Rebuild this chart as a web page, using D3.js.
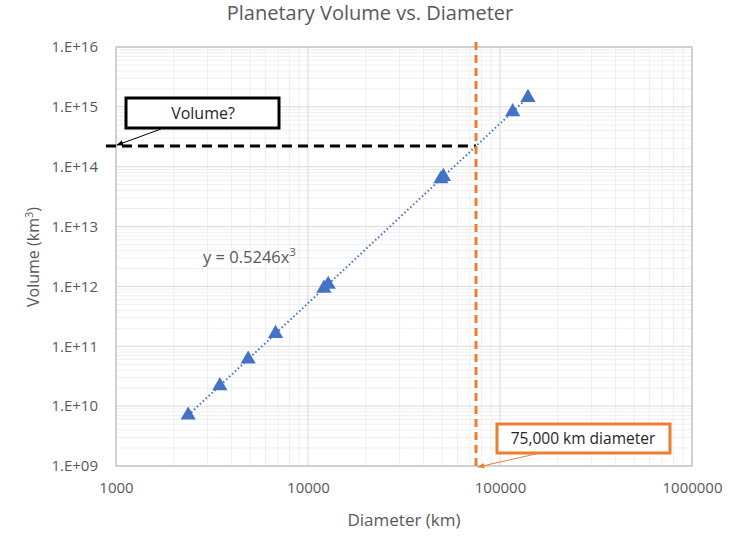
<!DOCTYPE html>
<html><head><meta charset="utf-8">
<script src="https://cdn.jsdelivr.net/npm/d3@7"></script>
<style>body{margin:0;background:#fff;} text{font-family:"Open Sans",Lato,sans-serif;}</style>
</head><body>
<script>
const planets = ["Pluto","Moon","Mercury","Mars","Venus","Earth","Neptune","Uranus","Saturn","Jupiter"];
const diameters = [2377, 3475, 4879, 6779, 12104, 12742, 49244, 50724, 116460, 139820];
const volumes = [7.07e9, 2.19e10, 6.08e10, 1.63e11, 9.28e11, 1.08e12, 6.25e13, 6.83e13, 8.27e14, 1.43e15];
const xTicks = [1000, 10000, 100000, 1000000];
const yTicks = [1e9, 1e10, 1e11, 1e12, 1e13, 1e14, 1e15, 1e16];
const coef = 0.5246;
const targetDiameter = 75000;

const W = 744, H = 544;
const svg = d3.select("body").append("svg").attr("width", W).attr("height", H);
const L = 116, R = 692, T = 47, B = 466;
const x = d3.scaleLog().domain([1000, 1000000]).range([L, R]);
const y = d3.scaleLog().domain([1e9, 1e16]).range([B, T]);

// minor gridlines
const minorX = [], minorY = [];
for (let d = 3; d < 6; d++) for (let k = 2; k <= 9; k++) minorX.push(k * Math.pow(10, d));
for (let d = 9; d < 16; d++) for (let k = 2; k <= 9; k++) minorY.push(k * Math.pow(10, d));
const g = svg.append("g");
g.selectAll(".mx").data(minorX).join("line").attr("x1", d => x(d)).attr("x2", d => x(d)).attr("y1", T).attr("y2", B).attr("stroke", "#efefef").attr("stroke-width", 1);
g.selectAll(".my").data(minorY).join("line").attr("y1", d => y(d)).attr("y2", d => y(d)).attr("x1", L).attr("x2", R).attr("stroke", "#efefef").attr("stroke-width", 1);
g.selectAll(".Mx").data(xTicks).join("line").attr("x1", d => x(d)).attr("x2", d => x(d)).attr("y1", T).attr("y2", B).attr("stroke", "#d9d9d9").attr("stroke-width", 1);
g.selectAll(".My").data(yTicks).join("line").attr("y1", d => y(d)).attr("y2", d => y(d)).attr("x1", L).attr("x2", R).attr("stroke", "#d9d9d9").attr("stroke-width", 1);
svg.append("rect").attr("x", L).attr("y", T).attr("width", R - L).attr("height", B - T).attr("fill", "none").attr("stroke", "#bfbfbf").attr("stroke-width", 1.2);

// axes (labels only)
const xAxis = d3.axisBottom(x).tickValues(xTicks).tickFormat(d => String(d)).tickSize(0).tickPadding(16);
const xg = svg.append("g").attr("transform", `translate(0,${B})`).call(xAxis);
const yAxis = d3.axisLeft(y).tickValues(yTicks).tickFormat(d => "1.E+" + String(Math.round(Math.log10(d))).padStart(2, "0")).tickSize(0).tickPadding(18);
const yg = svg.append("g").attr("transform", `translate(${L},0)`).call(yAxis);
[xg, yg].forEach(a => {
  a.select(".domain").remove();
  a.selectAll("text").attr("fill", "#595959").style("font-size", "15px").style("font-family", '"Open Sans",Lato,sans-serif');
});

// title & axis titles
svg.append("text").attr("x", 370).attr("y", 20).attr("text-anchor", "middle").attr("fill", "#595959").style("font-size", "20px").text("Planetary Volume vs. Diameter");
svg.append("text").attr("x", 404).attr("y", 526).attr("text-anchor", "middle").attr("fill", "#595959").style("font-size", "17px").text("Diameter (km)");
const yt = svg.append("text").attr("transform", "translate(39,257) rotate(-90)").attr("text-anchor", "middle").attr("fill", "#595959").style("font-size", "16px");
yt.append("tspan").text("Volume (km");
yt.append("tspan").attr("dy", -6).style("font-size", "11px").text("3");
yt.append("tspan").attr("dy", 6).text(")");

// trendline
const tl = d3.line().x(d => x(d)).y(d => y(coef * d * d * d));
svg.append("path").datum([d3.min(diameters), d3.max(diameters)]).attr("d", tl).attr("fill", "none").attr("stroke", "#4472c4").attr("stroke-width", 2).attr("stroke-dasharray", "1.5,2.5");

// markers
const tri = d3.symbol().type(d3.symbolTriangle).size(100);
svg.selectAll(".pt").data(diameters).join("path").attr("d", tri).attr("transform", (d, i) => `translate(${x(d)},${y(volumes[i])})`).attr("fill", "#4472c4");

// equation
const eq = svg.append("text").attr("x", 203).attr("y", 263).attr("fill", "#595959").style("font-size", "16.5px");
eq.append("tspan").text("y = 0.5246x");
eq.append("tspan").attr("dy", -7).style("font-size", "11px").text("3");

// guide lines
const tv = coef * Math.pow(targetDiameter, 3);
svg.append("line").attr("x1", 106).attr("x2", x(targetDiameter)).attr("y1", y(tv)).attr("y2", y(tv)).attr("stroke", "#000").attr("stroke-width", 3).attr("stroke-dasharray", "10,6");
svg.append("line").attr("x1", x(targetDiameter)).attr("x2", x(targetDiameter)).attr("y1", T - 5).attr("y2", B).attr("stroke", "#ed7d31").attr("stroke-width", 3).attr("stroke-dasharray", "8,5");

// arrowheads
const defs = svg.append("defs");
[["ab", "#000"], ["ao", "#ed7d31"]].forEach(([id, c]) => {
  defs.append("marker").attr("id", id).attr("viewBox", "0 0 10 10").attr("refX", 9).attr("refY", 5).attr("markerWidth", 7).attr("markerHeight", 7).attr("orient", "auto")
    .append("path").attr("d", "M0,1 L10,5 L0,9 Z").attr("fill", c);
});

// callouts
svg.append("line").attr("x1", 161).attr("y1", 129).attr("x2", L + 1).attr("y2", y(tv) - 1).attr("stroke", "#000").attr("stroke-width", 1).attr("marker-end", "url(#ab)");
svg.append("rect").attr("x", 126).attr("y", 98).attr("width", 153).attr("height", 30).attr("fill", "#fff").attr("stroke", "#000").attr("stroke-width", 3);
svg.append("text").attr("x", 203).attr("y", 119).attr("text-anchor", "middle").attr("fill", "#262626").style("font-size", "16px").text("Volume?");

svg.append("line").attr("x1", 540).attr("y1", 453).attr("x2", x(targetDiameter) + 2).attr("y2", B + 1).attr("stroke", "#ed7d31").attr("stroke-width", 1).attr("marker-end", "url(#ao)");
svg.append("rect").attr("x", 497).attr("y", 424).attr("width", 173).attr("height", 29).attr("fill", "#fff").attr("stroke", "#ed7d31").attr("stroke-width", 3);
svg.append("text").attr("x", 583).attr("y", 444).attr("text-anchor", "middle").attr("fill", "#262626").style("font-size", "15.5px").text("75,000 km diameter");
</script>
</body></html>
